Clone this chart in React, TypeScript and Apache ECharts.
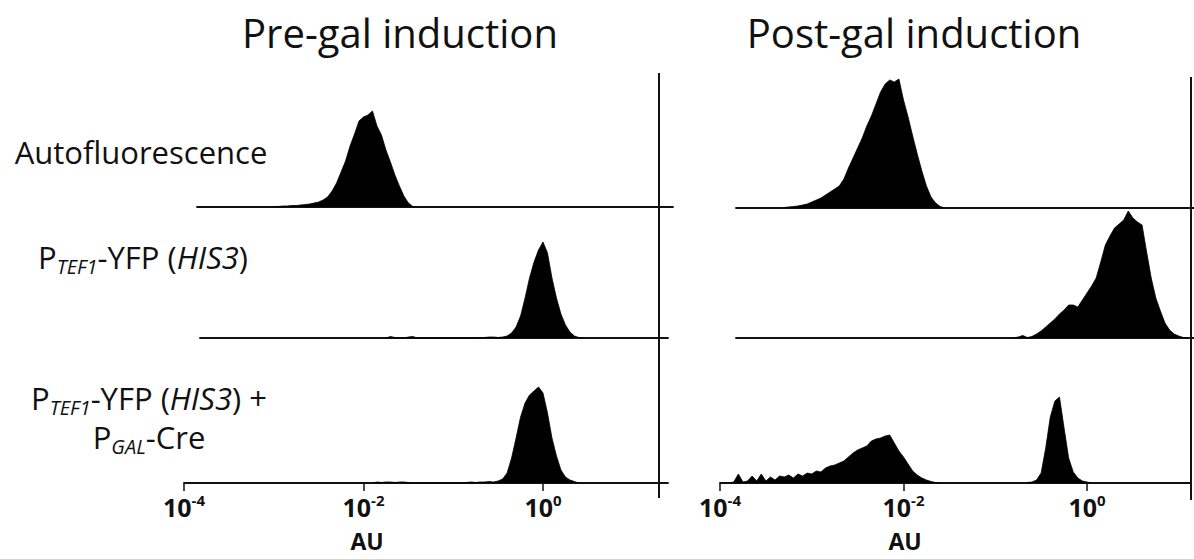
import React, { useEffect, useRef } from "react";
import * as echarts from "echarts";

// ---- Data (log10 AU bins, step 0.05 decade; heights in arbitrary counts, shared scale 0..130) ----
const STEP = 0.05;
const xTickValues = [-4, -2, 0];

// Pre-gal induction
const preAutoStart = -3.0;
const preAuto = [0.5, 0.5, 1, 1, 1.5, 1.5, 2, 2.5, 3, 4, 5, 7, 10, 16, 24, 35, 46, 61, 73, 86, 90, 92, 96, 81, 72, 57, 45, 32, 21, 11, 4, 0.5, 0];

const preTefStart = -1.75;
const preTef = [
  0, 1.5, 0.5, 0, 0, 1, 1.5, 0, 0, 0, 0, 0, 0, 0, 0, 0, 0, 0, 0, 0, 0, 0.5, 0.5, 1, 1,
  0.5, 1, 2, 5, 11, 22, 40, 60, 76, 88, 96, 85, 60, 40, 24, 13, 6, 2, 0.5, 0,
];

const preCreStart = -1.9;
const preCre = [
  0, 1, 0.5, 1, 1, 0.5, 1, 1, 0.5, 0, 0, 0, 0, 0, 0, 0, 0, 0, 0, 0, 0, 0.5, 1, 0.5, 1, 1, 1.5,
  1, 2, 4, 10, 25, 45, 66, 80, 88, 92, 96, 90, 70, 45, 27, 13, 6, 3, 1.5, 0,
];

// Post-gal induction
const postAutoStart = -3.3;
const postAuto = [0.5, 1, 1.5, 2, 3, 4, 6, 8, 10, 13, 16, 19, 22, 29, 40, 50, 60, 70, 82, 92, 104, 116, 124, 128, 126, 129, 108, 91, 72, 54, 37, 22, 11, 5, 1.5, 0];

const postTefStart = -0.8;
const postTef = [0, 1, 2.5, 0.5, 1.5, 4, 7, 11, 15, 19, 24, 28, 33, 33, 31, 38, 45, 52, 60, 76, 93, 102, 110, 114, 118, 127, 120, 116, 113, 86, 60, 40, 27, 15, 8, 4, 2, 0.5, 0];

const postCreLowStart = -3.9;
const postCreLow = [0, 1, 9, 1, 2, 7, 2, 9, 2, 6, 3, 7, 6, 8, 5, 9, 7, 10, 9, 12, 11, 15, 17, 18, 20, 22, 26, 30, 33, 35, 37, 42, 44, 45, 47, 48, 40, 32, 26, 19, 12, 8, 5, 3, 1.5, 0.5, 0];

const postCreHighStart = -0.65;
const postCreHigh = [0.5, 1, 3, 10, 35, 66, 82, 86, 55, 25, 11, 5, 2, 1, 0];

const rowLabels = [
  "{n|Autofluorescence}",
  "{n|P}{s|TEF1}{n|-YFP (}{i|HIS3}{n|)}",
  "{n|P}{s|TEF1}{n|-YFP (}{i|HIS3}{n|) +}\n{n|P}{s|GAL}{n|-Cre}",
];
const panelTitles = ["Pre-gal induction", "Post-gal induction"];
const axisName = "AU";

const toPairs = (start: number, vals: number[]) =>
  vals.map((v, i) => [Math.round((start + i * STEP) * 1000) / 1000, v]);

const FONT = "'Open Sans', Lato, sans-serif";
const INK = "#111";

export default function App() {
  const ref = useRef<HTMLDivElement>(null);

  useEffect(() => {
    document.body.style.margin = "0";
    if (!ref.current) return;
    const chart = echarts.init(ref.current, undefined, { renderer: "svg" });

    const panels = [
      { x0: 184, ppd: 89.75 },
      { x0: 720, ppd: 91.75 },
    ];
    const H = 130;
    const cells = [
      { p: 0, left: 197, right: 673, base: 207, axis: false, data: [toPairs(preAutoStart, preAuto)] },
      { p: 0, left: 200, right: 668, base: 338, axis: false, data: [toPairs(preTefStart, preTef)] },
      { p: 0, left: 184, right: 668, base: 483, axis: true, data: [toPairs(preCreStart, preCre)] },
      { p: 1, left: 736, right: 1194, base: 208, axis: false, data: [toPairs(postAutoStart, postAuto)] },
      { p: 1, left: 736, right: 1194, base: 338, axis: false, data: [toPairs(postTefStart, postTef)] },
      {
        p: 1, left: 720, right: 1190, base: 483, axis: true,
        data: [toPairs(postCreLowStart, postCreLow), toPairs(postCreHighStart, postCreHigh)],
      },
    ];

    const grid: any[] = [];
    const xAxis: any[] = [];
    const yAxis: any[] = [];
    const series: any[] = [];
    cells.forEach((c, i) => {
      const pan = panels[c.p];
      grid.push({ left: c.left, top: c.base - H, width: c.right - c.left, height: H });
      xAxis.push({
        type: "value",
        gridIndex: i,
        min: -4 + (c.left - pan.x0) / pan.ppd,
        max: -4 + (c.right - pan.x0) / pan.ppd,
        splitLine: { show: false },
        axisLine: { show: true, onZero: false, lineStyle: { color: INK, width: 1.8 } },
        axisTick: c.axis
          ? { show: true, customValues: xTickValues, length: 8, lineStyle: { color: INK, width: 1.5 } }
          : { show: false },
        axisLabel: c.axis
          ? {
              show: true,
              customValues: xTickValues,
              margin: 9,
              formatter: (v: number) => `{b|10}{s|${v}}`,
              rich: {
                b: { fontFamily: FONT, fontWeight: "bold", fontSize: 25, color: INK, lineHeight: 30 },
                s: { fontFamily: FONT, fontWeight: "bold", fontSize: 15, color: INK, lineHeight: 20, verticalAlign: "top" },
              },
            }
          : { show: false },
      });
      yAxis.push({ type: "value", gridIndex: i, min: 0, max: H, show: false });
      c.data.forEach((d) => {
        series.push({
          type: "line",
          xAxisIndex: i,
          yAxisIndex: i,
          data: d,
          symbol: "none",
          silent: true,
          lineStyle: { color: "#000", width: 0.8 },
          areaStyle: { color: "#000", opacity: 1 },
        });
      });
    });

    const labelRich = {
      n: { fontFamily: FONT, fontSize: 31, fill: INK, color: INK, lineHeight: 39 },
      s: { fontFamily: FONT, fontSize: 20, fontStyle: "italic", fill: INK, color: INK, lineHeight: 18, verticalAlign: "bottom" },
      i: { fontFamily: FONT, fontSize: 31, fontStyle: "italic", fill: INK, color: INK, lineHeight: 39 },
    };

    const graphic: any[] = [
      { type: "line", shape: { x1: 659, y1: 73, x2: 659, y2: 498 }, style: { stroke: INK, lineWidth: 2 } },
      { type: "line", shape: { x1: 1191, y1: 77, x2: 1191, y2: 500 }, style: { stroke: INK, lineWidth: 2 } },
      {
        type: "text", x: 400, y: 32,
        style: { text: panelTitles[0], fontFamily: FONT, fontSize: 40, fill: INK, align: "center", verticalAlign: "middle" },
      },
      {
        type: "text", x: 914, y: 32,
        style: { text: panelTitles[1], fontFamily: FONT, fontSize: 40, fill: INK, align: "center", verticalAlign: "middle" },
      },
      {
        type: "text", x: 367, y: 541,
        style: { text: axisName, fontFamily: FONT, fontWeight: "bold", fontSize: 23, fill: INK, align: "center", verticalAlign: "middle" },
      },
      {
        type: "text", x: 905, y: 541,
        style: { text: axisName, fontFamily: FONT, fontWeight: "bold", fontSize: 23, fill: INK, align: "center", verticalAlign: "middle" },
      },
      {
        type: "text", x: 141, y: 152,
        style: { text: rowLabels[0], rich: labelRich, align: "center", verticalAlign: "middle" },
      },
      {
        type: "text", x: 143, y: 257,
        style: { text: rowLabels[1], rich: labelRich, align: "center", verticalAlign: "middle" },
      },
      {
        type: "text", x: 149, y: 417,
        style: { text: rowLabels[2], rich: labelRich, align: "center", verticalAlign: "middle" },
      },
    ];

    chart.setOption({
      animation: false,
      backgroundColor: "#fff",
      grid,
      xAxis,
      yAxis,
      series,
      graphic,
    });

    return () => chart.dispose();
  }, []);

  return <div ref={ref} style={{ width: 1194, height: 559 }} />;
}
